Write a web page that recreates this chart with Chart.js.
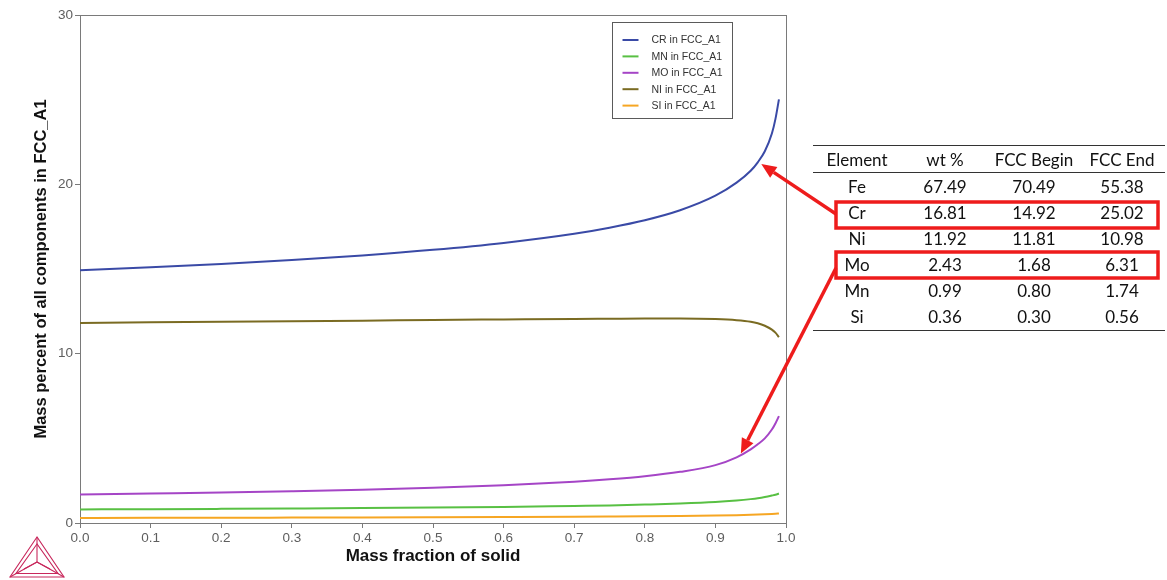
<!DOCTYPE html>
<html>
<head>
<meta charset="utf-8">
<title>Mass percent of all components in FCC_A1</title>
<script src="https://cdn.jsdelivr.net/npm/chart.js@4.4.1/dist/chart.umd.min.js"></script>
<style>
  html, body { margin: 0; padding: 0; background: #ffffff; }
  #wrap { position: relative; width: 1167px; height: 580px; overflow: hidden; background: #ffffff; }
  #chart { position: absolute; left: 0; top: 0; }
  #summary {
    position: absolute; left: 813px; top: 145px; width: 352px;
    border-collapse: collapse; table-layout: fixed;
    font-family: Lato, "Open Sans", "Liberation Sans", sans-serif; font-size: 17px; color: #111;
  }
  #summary th, #summary td { padding: 1.5px 0 0 0; text-align: center; font-weight: normal; line-height: 24.6px; white-space: nowrap; }
  #summary thead tr { border-top: 1.5px solid #333; border-bottom: 1px solid #333; }
  #summary tbody tr:last-child { border-bottom: 1.5px solid #333; }
</style>
</head>
<body>
<div id="wrap">
  <canvas id="chart" width="1167" height="580"></canvas>
  <table id="summary">
    <colgroup><col style="width:88px"><col style="width:88px"><col style="width:90px"><col style="width:86px"></colgroup>
    <thead><tr id="summaryHead"></tr></thead>
    <tbody id="summaryBody"></tbody>
  </table>
</div>
<script>
// Mass fraction of solid (x) and composition of the FCC_A1 phase (mass percent)
const massFraction = [0, 0.1, 0.2, 0.3, 0.4, 0.5, 0.6, 0.7, 0.75, 0.8, 0.85, 0.9, 0.93, 0.95, 0.96, 0.97, 0.98, 0.985, 0.99];
const crInFcc = [14.92, 15.10, 15.30, 15.53, 15.80, 16.13, 16.54, 17.08, 17.44, 17.88, 18.47, 19.33, 20.10, 20.80, 21.30, 21.95, 23.00, 23.85, 25.02];
const mnInFcc = [0.80, 0.816, 0.835, 0.856, 0.88, 0.91, 0.95, 1.01, 1.04, 1.09, 1.15, 1.24, 1.33, 1.41, 1.46, 1.53, 1.62, 1.67, 1.74];
const moInFcc = [1.68, 1.74, 1.80, 1.88, 1.97, 2.08, 2.23, 2.44, 2.58, 2.76, 3.02, 3.42, 3.88, 4.35, 4.65, 5.00, 5.52, 5.88, 6.31];
const niInFcc = [11.81, 11.85, 11.88, 11.92, 11.95, 11.99, 12.02, 12.05, 12.06, 12.07, 12.07, 12.04, 11.98, 11.89, 11.80, 11.65, 11.42, 11.24, 10.98];
const siInFcc = [0.30, 0.305, 0.311, 0.318, 0.326, 0.336, 0.349, 0.366, 0.378, 0.392, 0.412, 0.44, 0.465, 0.488, 0.502, 0.518, 0.537, 0.548, 0.56];

const seriesLabels = ["CR in FCC_A1", "MN in FCC_A1", "MO in FCC_A1", "NI in FCC_A1", "SI in FCC_A1"];
const seriesColors = ["#3a4aa6", "#58c043", "#a545c6", "#7a6b22", "#f6a623"];

// Alloy summary table
const tableHeader = ["Element", "wt %", "FCC Begin", "FCC End"];
const elements = ["Fe", "Cr", "Ni", "Mo", "Mn", "Si"];
const wtPercent = [67.49, 16.81, 11.92, 2.43, 0.99, 0.36];
const fccBegin = [70.49, 14.92, 11.81, 1.68, 0.80, 0.30];
const fccEnd = [55.38, 25.02, 10.98, 6.31, 1.74, 0.56];
const highlighted = ["Cr", "Mo"];

// Curve points the call-out arrows point at (data units)
const calloutTargets = [{ x: 0.965, y: 21.2 }, { x: 0.936, y: 4.1 }];

const xTicks = [0, 0.1, 0.2, 0.3, 0.4, 0.5, 0.6, 0.7, 0.8, 0.9, 1.0];
const yTicks = [0, 10, 20, 30];

// build the table
const headRow = document.getElementById('summaryHead');
tableHeader.forEach(h => { const th = document.createElement('th'); th.textContent = h; headRow.appendChild(th); });
const body = document.getElementById('summaryBody');
elements.forEach((el, i) => {
  const tr = document.createElement('tr');
  [el, wtPercent[i].toFixed(2), fccBegin[i].toFixed(2), fccEnd[i].toFixed(2)].forEach(v => {
    const td = document.createElement('td'); td.textContent = v; tr.appendChild(td);
  });
  body.appendChild(tr);
});

const series = [crInFcc, mnInFcc, moInFcc, niInFcc, siInFcc];
const datasets = series.map((vals, i) => ({
  label: seriesLabels[i],
  data: massFraction.map((x, j) => ({ x: x, y: vals[j] })),
  borderColor: seriesColors[i],
  backgroundColor: seriesColors[i],
  borderWidth: 2,
  pointRadius: 0,
  fill: false,
  cubicInterpolationMode: 'monotone'
}));

const axisFont = '"Liberation Sans", Arial, sans-serif';

// plot frame, inset legend, red call-outs and the logo
const decorations = {
  id: 'decorations',
  beforeDatasetsDraw(chart) {
    const { ctx, chartArea: a } = chart;
    ctx.save();
    ctx.strokeStyle = '#7a7a7a';
    ctx.lineWidth = 1;
    ctx.strokeRect(a.left + 0.5, a.top + 0.5, a.right - a.left, a.bottom - a.top);
    ctx.restore();
  },
  afterDraw(chart) {
    const { ctx, chartArea: a, scales } = chart;
    ctx.save();
    // inset legend
    const lx = a.right - 173.5, ly = a.top + 7.5, lw = 120, lh = 96;
    ctx.fillStyle = '#ffffff';
    ctx.fillRect(lx, ly, lw, lh);
    ctx.strokeStyle = '#5a5a5a';
    ctx.lineWidth = 1;
    ctx.strokeRect(lx, ly, lw, lh);
    ctx.font = '10.5px ' + axisFont;
    ctx.textBaseline = 'middle';
    ctx.textAlign = 'left';
    chart.data.datasets.forEach((ds, i) => {
      const yy = ly + 17.5 + i * 16.4;
      ctx.strokeStyle = ds.borderColor;
      ctx.lineWidth = 2;
      ctx.beginPath(); ctx.moveTo(lx + 10, yy); ctx.lineTo(lx + 26, yy); ctx.stroke();
      ctx.fillStyle = '#333333';
      ctx.fillText(ds.label, lx + 39, yy + 0.5);
    });

    // red boxes round the highlighted table rows
    ctx.strokeStyle = '#ee1c1c';
    ctx.lineWidth = 3.5;
    const rowTop = [202, 252];
    highlighted.forEach((el, k) => { ctx.strokeRect(836, rowTop[k], 322, 26); });

    // arrows from the boxes to the curves
    ctx.fillStyle = '#ee1c1c';
    const starts = [{ x: 836, y: 214 }, { x: 836, y: 268 }];
    calloutTargets.forEach((t, k) => {
      const x1 = scales.x.getPixelForValue(t.x), y1 = scales.y.getPixelForValue(t.y);
      const x0 = starts[k].x, y0 = starts[k].y;
      const ang = Math.atan2(y1 - y0, x1 - x0), L = 15, W = 6.5;
      const bx = x1 - L * Math.cos(ang), by = y1 - L * Math.sin(ang);
      ctx.lineWidth = 3.5;
      ctx.beginPath(); ctx.moveTo(x0, y0); ctx.lineTo(bx, by); ctx.stroke();
      ctx.beginPath();
      ctx.moveTo(x1, y1);
      ctx.lineTo(bx + W * Math.sin(ang), by - W * Math.cos(ang));
      ctx.lineTo(bx - W * Math.sin(ang), by + W * Math.cos(ang));
      ctx.closePath(); ctx.fill();
    });

    // logo: wire-frame tetrahedron
    ctx.strokeStyle = '#c8285c';
    ctx.lineWidth = 1.1;
    const apex = [37, 537], bl = [10, 577], br = [64, 577], c = [37, 562];
    const tri = (p, q, r) => { ctx.beginPath(); ctx.moveTo(p[0], p[1]); ctx.lineTo(q[0], q[1]); ctx.lineTo(r[0], r[1]); ctx.closePath(); ctx.stroke(); };
    tri(apex, bl, br);
    tri([37, 544], [16, 573.5], [58, 573.5]);
    [[apex, c], [bl, c], [br, c]].forEach(([p, q]) => {
      ctx.beginPath(); ctx.moveTo(p[0], p[1]); ctx.lineTo(q[0], q[1]); ctx.stroke();
    });
    ctx.beginPath(); ctx.moveTo(24, 569); ctx.lineTo(37, 562); ctx.lineTo(50, 569); ctx.stroke();
    ctx.restore();
  }
};

new Chart(document.getElementById('chart'), {
  type: 'line',
  data: { datasets: datasets },
  plugins: [decorations],
  options: {
    responsive: false,
    animation: false,
    devicePixelRatio: 1,
    layout: { padding: { left: 0, top: 15, right: 381, bottom: 0 } },
    plugins: { legend: { display: false }, tooltip: { enabled: false } },
    scales: {
      x: {
        type: 'linear', min: 0, max: 1,
        afterFit: s => { s.height = 57; },
        afterBuildTicks: s => { s.ticks = xTicks.map(v => ({ value: v })); },
        grid: { drawOnChartArea: false, drawTicks: true, tickLength: 5, color: '#7a7a7a' },
        border: { display: true, color: '#7a7a7a' },
        ticks: { padding: 2, color: '#5e5e5e', font: { family: axisFont, size: 13.5 }, callback: v => Number(v).toFixed(1), maxRotation: 0 },
        title: { display: true, text: 'Mass fraction of solid', color: '#111', font: { family: axisFont, size: 17, weight: 'bold' }, padding: { top: 0, bottom: 13.5 } }
      },
      y: {
        type: 'linear', min: 0, max: 30,
        afterFit: s => { s.width = 80; },
        afterBuildTicks: s => { s.ticks = yTicks.map(v => ({ value: v })); },
        grid: { drawOnChartArea: false, drawTicks: true, tickLength: 5, color: '#7a7a7a' },
        border: { display: true, color: '#7a7a7a' },
        ticks: { padding: 2, color: '#5e5e5e', font: { family: axisFont, size: 13.5 }, callback: v => String(v) },
        title: { display: true, text: 'Mass percent of all components in FCC_A1', color: '#111', font: { family: axisFont, size: 16.5, weight: 'bold' }, padding: { top: 32, bottom: 0 } }
      }
    }
  }
});
</script>
</body>
</html>
